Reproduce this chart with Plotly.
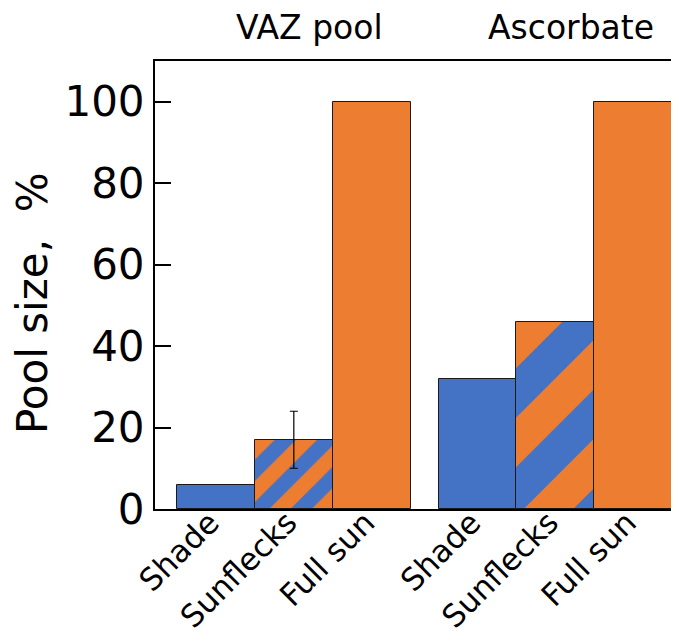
import plotly.graph_objects as go

groups = ["VAZ pool", "Ascorbate"]
conditions = ["Shade", "Sunflecks", "Full sun"]
vaz_values = [6, 17, 100]
asc_values = [32, 46, 100]
vaz_errors = [None, 7, None]
asc_errors = [None, None, None]

BLUE = "#4472C4"
ORANGE = "#ED7D31"
GAP = 0.36

values = vaz_values + asc_values
errors = vaz_errors + asc_errors
labels = conditions + conditions
xpos = [gi * (len(conditions) + GAP) + ci for gi in range(len(groups)) for ci in range(len(conditions))]

cond_style = {
    "Shade": dict(color=BLUE),
    "Sunflecks": dict(color=ORANGE, pattern="/"),
    "Full sun": dict(color=ORANGE),
}
group_pattern_size = [30, 70]

fig = go.Figure()
for cond in conditions:
    idx = [i for i, c in enumerate(labels) if c == cond]
    st = cond_style[cond]
    marker = dict(color=st["color"], line=dict(color="#1a1a1a", width=1))
    if "pattern" in st:
        marker["pattern"] = dict(shape=st["pattern"], fgcolor=BLUE, bgcolor=ORANGE,
                                 fgopacity=1, solidity=0.5, fillmode="overlay",
                                 size=[group_pattern_size[i // len(conditions)] for i in idx])
    fig.add_trace(go.Bar(
        x=[xpos[i] for i in idx], y=[values[i] for i in idx], width=1,
        marker=marker, showlegend=False, name=cond,
    ))

ex = [x for x, e in zip(xpos, errors) if e is not None]
ey = [v for v, e in zip(values, errors) if e is not None]
ee = [e for e in errors if e is not None]
fig.add_trace(go.Scatter(
    x=ex, y=ey, mode="markers",
    marker=dict(size=1, color="rgba(0,0,0,0)"),
    error_y=dict(type="data", array=ee, visible=True, color="black",
                 thickness=1.2, width=4),
    showlegend=False, hoverinfo="skip",
))

for gi, g in enumerate(groups):
    center = gi * (len(conditions) + GAP) + (len(conditions) - 1) / 2
    fig.add_annotation(x=center, y=1, xref="x", yref="paper", yanchor="bottom",
                       text=g, showarrow=False, xshift=16, yshift=12,
                       font=dict(family="DejaVu Sans", size=33, color="black"))

fig.add_annotation(x=0, xref="paper", xanchor="center", xshift=-123,
                   y=0.5, yref="paper", yshift=-18, borderpad=0,
                   text="Pool size,  %", textangle=-90, showarrow=False,
                   font=dict(family="DejaVu Sans", size=42, color="black"))

# page body has an 8px margin, so the figure is sized to fit inside the window
fig.update_layout(
    width=671, height=635,
    margin=dict(l=147, r=0, t=53, b=134),
    paper_bgcolor="white", plot_bgcolor="white",
    barmode="overlay", bargap=0,
    font=dict(family="DejaVu Sans", color="black"),
)
fig.update_xaxes(
    range=[-0.784, 5.95], automargin=False,
    tickvals=xpos, ticktext=labels, tickangle=-45,
    tickfont=dict(size=31, family="DejaVu Sans", color="black"),
    ticklabelstandoff=-19, ticklabelshift=-6,
    showline=True, linecolor="black", linewidth=2, mirror=True,
    ticks="", showgrid=False, zeroline=False,
)
fig.update_yaxes(
    range=[0, 110], automargin=False,
    tickvals=[0, 20, 40, 60, 80, 100],
    tickfont=dict(size=42, family="DejaVu Sans", color="black"),
    showline=True, linecolor="black", linewidth=2, mirror=False,
    ticks="inside", ticklen=16, tickwidth=1.5, tickcolor="black",
    showgrid=False, zeroline=False,
)

fig.write_html("out.html")
